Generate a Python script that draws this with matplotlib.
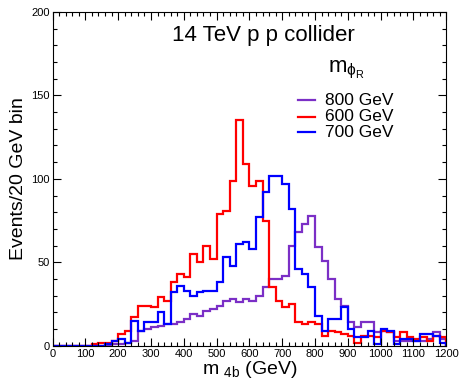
import numpy as np
import matplotlib
matplotlib.use('Agg')
import matplotlib.pyplot as plt
from matplotlib.ticker import MultipleLocator

plt.rcParams['font.family'] = ['Liberation Sans', 'DejaVu Sans']
plt.rcParams['mathtext.fontset'] = 'custom'
plt.rcParams['mathtext.rm'] = 'Liberation Sans'
plt.rcParams['mathtext.it'] = 'Liberation Sans'

# 20 GeV bins, 0 - 1200 GeV
bin_edges = np.arange(0, 1220, 20)

# events per bin, m_phiR = 800 GeV
ev_800 = [0, 0, 0, 0, 0, 0, 0, 0, 0, 1, 1, 2, 3, 9, 10, 11, 12, 13, 13, 14,
          16, 19, 18, 21, 22, 24, 27, 28, 26, 28, 27, 30, 35, 40, 40, 42, 60, 68, 73, 78,
          59, 51, 40, 28, 24, 14, 11, 14, 14, 8, 9, 8, 3, 3, 3, 3, 3, 4, 8, 4]
# m_phiR = 600 GeV
ev_600 = [0, 0, 0, 0, 0, 0, 1, 2, 2, 3, 7, 9, 17, 24, 24, 23, 29, 27, 38, 43,
          41, 55, 50, 60, 52, 79, 81, 99, 135, 109, 96, 99, 75, 35, 27, 23, 25, 14, 13, 14,
          13, 6, 9, 8, 7, 6, 2, 6, 6, 5, 9, 8, 5, 8, 5, 4, 5, 3, 6, 5]
# m_phiR = 700 GeV
ev_700 = [0, 0, 0, 0, 0, 0, 0, 0, 1, 3, 4, 2, 15, 9, 14, 14, 20, 13, 32, 36,
          33, 30, 32, 33, 33, 38, 53, 48, 61, 62, 58, 77, 92, 102, 102, 97, 82, 46, 43, 35,
          18, 9, 16, 16, 23, 10, 5, 5, 9, 1, 10, 9, 1, 4, 4, 3, 7, 7, 6, 2]

labels = ['800 GeV', '600 GeV', '700 GeV']
colors = ['#7b2fc6', '#ff0000', '#0000ff']

fig = plt.figure(figsize=(4.61, 3.83), dpi=100)
ax = fig.add_axes([0.114, 0.097, 0.854, 0.872])

for vals, c in zip([ev_800, ev_600, ev_700], colors):
    ax.stairs(vals, bin_edges, color=c, linewidth=1.6)

ax.set_xlim(0, 1200)
ax.set_ylim(0, 200)
ax.xaxis.set_major_locator(MultipleLocator(100))
ax.xaxis.set_minor_locator(MultipleLocator(20))
ax.yaxis.set_major_locator(MultipleLocator(50))
ax.yaxis.set_minor_locator(MultipleLocator(10))
ax.tick_params(which='both', direction='in', top=True, right=True, labelsize=8, pad=2)
ax.tick_params(which='major', length=6, width=0.8)
ax.tick_params(which='minor', length=3, width=0.8)

ax.set_xlabel(r'm $_{\rm 4b}$ (GeV)', fontsize=14, labelpad=0)
ax.set_ylabel('Events/20 GeV bin', fontsize=14, labelpad=3)

ax.text(0.535, 0.93, '14 TeV p p collider', transform=ax.transAxes, fontsize=16,
        ha='center', va='center')
ax.text(0.70, 0.82, r'm$_{\phi_{\rm R}}$', transform=ax.transAxes, fontsize=16,
        ha='left', va='baseline')

# legend drawn by hand: short line + label per series
leg_y = [0.736, 0.686, 0.640]
for lab, c, yy in zip(labels, colors, leg_y):
    ax.plot([0.624, 0.667], [yy, yy], color=c, linewidth=1.6, transform=ax.transAxes)
    ax.text(0.692, yy, lab, transform=ax.transAxes, fontsize=12.5, ha='left', va='center')

fig.savefig('out.png', dpi=100)
